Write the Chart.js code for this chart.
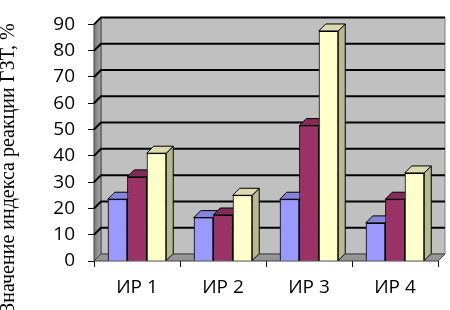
<!DOCTYPE html>
<html>
<head>
<meta charset="utf-8">
<script src="https://cdn.jsdelivr.net/npm/chart.js@4/dist/chart.umd.min.js"></script>
<style>
  html, body { margin: 0; padding: 0; background: #fff; }
  #c { display: block; }
</style>
</head>
<body>
<canvas id="c" width="450" height="310"></canvas>
<script>
// data
const categories = ["ИР 1", "ИР 2", "ИР 3", "ИР 4"];
const series1 = [23.5, 16.5, 23.5, 14.5];
const series2 = [32, 17.5, 51.5, 23.5];
const series3 = [41, 25, 87.5, 33.5];
const yTicks = [0, 10, 20, 30, 40, 50, 60, 70, 80, 90];
const yTitle = "Значение индекса реакции ГЗТ, %";

const colors = ["#9999FF", "#993366", "#FFFFCC"];
const DEPTH = 7; // 3d offset in px

function shade(hex, f) {
  var n = parseInt(hex.slice(1), 16);
  var r = Math.round(((n >> 16) & 255) * f);
  var g = Math.round(((n >> 8) & 255) * f);
  var b = Math.round((n & 255) * f);
  return "rgb(" + r + "," + g + "," + b + ")";
}

function poly(ctx, pts, fill, stroke) {
  ctx.beginPath();
  ctx.moveTo(pts[0][0], pts[0][1]);
  for (var i = 1; i < pts.length; i++) ctx.lineTo(pts[i][0], pts[i][1]);
  ctx.closePath();
  if (fill) { ctx.fillStyle = fill; ctx.fill(); }
  if (stroke) { ctx.strokeStyle = stroke; ctx.lineWidth = 1; ctx.stroke(); }
}

// walls, floor and gridlines behind the bars
const walls3d = {
  id: "walls3d",
  beforeDatasetsDraw(chart) {
    const ctx = chart.ctx;
    const a = chart.chartArea;
    const y = chart.scales.y;
    const d = DEPTH;
    ctx.save();
    // back wall
    poly(ctx, [[a.left + d, a.top - d], [a.right + d, a.top - d], [a.right + d, a.bottom - d], [a.left + d, a.bottom - d]], "#C0C0C0", "#808080");
    // left wall
    var grad = ctx.createLinearGradient(a.left, 0, a.left + d, 0);
    grad.addColorStop(0, "#7a7a7a");
    grad.addColorStop(1, "#a8a8a8");
    poly(ctx, [[a.left, a.top], [a.left + d, a.top - d], [a.left + d, a.bottom - d], [a.left, a.bottom]], grad, "#404040");
    // floor
    poly(ctx, [[a.left, a.bottom], [a.left + d, a.bottom - d], [a.right + d, a.bottom - d], [a.right, a.bottom]], "#969696", "#404040");
    // gridlines
    ctx.strokeStyle = "#000";
    ctx.lineWidth = 2;
    yTicks.forEach(function (v) {
      if (v === 0) return;
      var py = y.getPixelForValue(v);
      ctx.beginPath();
      ctx.moveTo(a.left, py);
      ctx.lineTo(a.left + d, py - d);
      ctx.lineTo(a.right + d, py - d);
      ctx.stroke();
    });
    ctx.restore();
  },
  afterDatasetsDraw(chart) {
    // top and side faces, then front faces again so neighbours overlap right
    const ctx = chart.ctx;
    const d = DEPTH;
    const n = chart.data.datasets.length;
    ctx.save();
    for (var j = 0; j < categories.length; j++) {
      for (var i = 0; i < n; i++) {
        var bar = chart.getDatasetMeta(i).data[j];
        var c = colors[i];
        var x0 = bar.x - bar.width / 2, x1 = bar.x + bar.width / 2;
        var top = bar.y, bot = bar.base;
        poly(ctx, [[x1, top], [x1 + d, top - d], [x1 + d, bot - d], [x1, bot]], shade(c, 0.72), "#000");
        poly(ctx, [[x0, top], [x0 + d, top - d], [x1 + d, top - d], [x1, top]], shade(c, 0.86), "#000");
        bar.draw(ctx);
      }
    }
    ctx.restore();
  },
  afterDraw(chart) {
    const ctx = chart.ctx;
    ctx.save();
    ctx.translate(14, 168);
    ctx.rotate(-Math.PI / 2);
    ctx.font = "20px 'Liberation Serif'";
    ctx.fillStyle = "#000";
    ctx.textAlign = "center";
    ctx.textBaseline = "alphabetic";
    ctx.fillText(yTitle, 0, 0);
    ctx.restore();
  }
};

const tickFont = { family: "'Open Sans'", size: 19 };

new Chart(document.getElementById("c"), {
  type: "bar",
  data: {
    labels: categories,
    datasets: [
      { data: series1, backgroundColor: colors[0], borderColor: "#000", borderWidth: 1 },
      { data: series2, backgroundColor: colors[1], borderColor: "#000", borderWidth: 1 },
      { data: series3, backgroundColor: colors[2], borderColor: "#000", borderWidth: 1 },
    ],
  },
  options: {
    responsive: false,
    animation: false,
    devicePixelRatio: 1,
    categoryPercentage: 0.68,
    barPercentage: 1,
    layout: { padding: { top: 12, right: 12, left: 0, bottom: 0 } },
    plugins: {
      legend: { display: false },
      tooltip: { enabled: false },
    },
    scales: {
      y: {
        min: 0,
        max: 90,
        afterFit: function (s) { s.width = 94; },
        afterBuildTicks: function (s) { s.ticks = yTicks.map(function (v) { return { value: v }; }); },
        ticks: { font: tickFont, color: "#000", padding: 13 },
        grid: { drawOnChartArea: false, drawTicks: true, tickLength: 6, color: "#000" },
        border: { display: false },
      },
      x: {
        afterFit: function (s) { s.height = 49; },
        ticks: { font: tickFont, color: "#000", padding: 9 },
        grid: { offset: true, drawOnChartArea: false, drawTicks: true, tickLength: 6, color: "#000" },
        border: { display: false },
      },
    },
  },
  plugins: [walls3d],
});
</script>
</body>
</html>
